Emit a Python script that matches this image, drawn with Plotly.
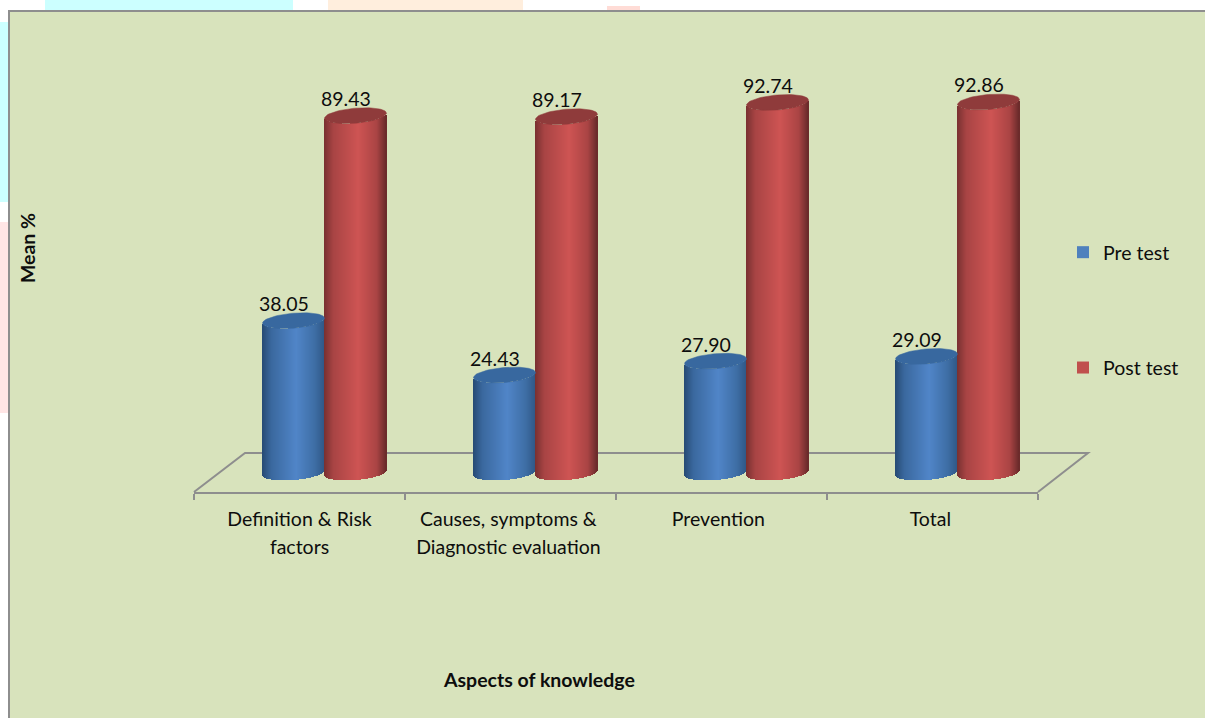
import math
import plotly.graph_objects as go

# ---- data ----
categories = ["Definition & Risk<br>factors", "Causes, symptoms &<br>Diagnostic evaluation", "Prevention", "Total"]
pre_test = [38.05, 24.43, 27.90, 29.09]
post_test = [89.43, 89.17, 92.74, 92.86]
series_names = ["Pre test", "Post test"]

# ---- page geometry (pixels) ----
W, H = 1205, 718
L, R, T, B = 194, 1038, 4, 492
ZERO_PX, PX_PER_UNIT = 472.5, 3.99
CAT_PX = (R - L) / 4
FONT = "Lato"
INK = "#0d0d0d"
GRAY = "#8e8e8e"
TEXT_SIZE = 19.5


def px(x):
    return (x - L) / (R - L)


def py(y):
    return (B - y) / (B - T)


def lerp(a, b, f):
    return tuple(a[i] + (b[i] - a[i]) * f for i in range(3))


def shade(stops, u):
    for (u0, c0), (u1, c1) in zip(stops, stops[1:]):
        if u <= u1:
            f = (u - u0) / (u1 - u0)
            c = lerp(c0, c1, f)
            return "rgb(%d,%d,%d)" % tuple(round(v) for v in c)
    return "rgb(%d,%d,%d)" % stops[-1][1]


BLUE_STOPS = [(0, (38, 74, 115)), (0.15, (58, 104, 158)), (0.55, (80, 133, 200)), (0.85, (62, 110, 165)), (1, (48, 88, 135))]
RED_STOPS = [(0, (120, 48, 48)), (0.15, (168, 68, 68)), (0.55, (206, 84, 83)), (0.85, (170, 68, 68)), (1, (104, 42, 42))]
CAP_COLORS = ["#38689f", "#8f3b3b"]
LEGEND_COLORS = ["#4f81bd", "#c0504d"]

half_w = 31 / CAT_PX
centre_shift = 0.5 + 25 / CAT_PX
minor_b = 7.5 / PX_PER_UNIT
shear = 2.5 / PX_PER_UNIT
N_STRIPS = 62

fig = go.Figure()


def add_cylinder_series(values, sign, stops, cap_color, name):
    xs, widths, bases, heights, colors = [], [], [], [], []
    cap_traces = []
    for i, v in enumerate(values):
        cx = i + centre_shift + sign * half_w
        for k in range(N_STRIPS):
            t = -1 + (2 * k + 1) / N_STRIPS
            front = -minor_b * math.sqrt(max(0, 1 - t * t)) + shear * t
            xs.append(cx + t * half_w)
            widths.append(2 * half_w / N_STRIPS)
            bases.append(front)
            heights.append(v)
            colors.append(shade(stops, (t + 1) / 2))
        angles = [2 * math.pi * a / 72 for a in range(73)]
        cap_traces.append(go.Scatter(
            x=[cx + half_w * math.cos(a) for a in angles],
            y=[v + minor_b * math.sin(a) + shear * math.cos(a) for a in angles],
            mode="lines", fill="toself", fillcolor=cap_color,
            line=dict(color=cap_color, width=0.5),
            cliponaxis=False, showlegend=False, hoverinfo="skip"))
    fig.add_trace(go.Bar(x=xs, y=heights, base=bases, width=widths,
                         marker=dict(color=colors, line=dict(width=0)),
                         cliponaxis=False, showlegend=False, name=name,
                         hoverinfo="skip"))
    for c in cap_traces:
        fig.add_trace(c)


add_cylinder_series(pre_test, -1, BLUE_STOPS, CAP_COLORS[0], series_names[0])
add_cylinder_series(post_test, 1, RED_STOPS, CAP_COLORS[1], series_names[1])

# legend entries
for n, c in zip(series_names, LEGEND_COLORS):
    fig.add_trace(go.Scatter(x=[None], y=[None], mode="markers", name=n, legendgroup=n,
                             marker=dict(symbol="square", size=12, color=c)))

annotations = []
for values, sign in ((pre_test, -1), (post_test, 1)):
    for i, v in enumerate(values):
        annotations.append(dict(x=i + centre_shift + sign * half_w, y=v, xref="x", yref="y",
                                text="%.2f" % v, showarrow=False, xshift=-9.5, yshift=17,
                                font=dict(family=FONT, size=TEXT_SIZE, color=INK)))
annotations.append(dict(x=px(539), y=py(679), xref="paper", yref="paper", xanchor="center", yanchor="middle",
                        text="<b>Aspects of knowledge</b>",
                        showarrow=False, font=dict(family=FONT, size=19.5, color=INK)))

shapes = []
# faint artwork that shows around the panel
for (x0, y0, x1, y1, col) in [(0, 22, 9, 202, "#ccffff"), (0, 222, 9, 413, "#ffe5e5"),
                              (45, 0, 293, 11, "#ccffff"), (328, 0, 523, 11, "#ffeedd"),
                              (607, 6, 640, 11, "#ffdcd6")]:
    shapes.append(dict(type="rect", xref="paper", yref="paper", x0=px(x0), x1=px(x1), y0=py(y0), y1=py(y1),
                       fillcolor=col, line=dict(width=0), layer="below"))
# green panel
shapes.append(dict(type="rect", xref="paper", yref="paper", x0=px(9), x1=px(1230), y0=py(11), y1=py(740),
                   fillcolor="#d8e3bc", line=dict(color=GRAY, width=2), layer="below"))
# chart floor
floor = "M %f %f L %f %f L %f %f L %f %f" % (px(194), py(492), px(245), py(453), px(1088), py(453), px(1038), py(492))
shapes.append(dict(type="path", xref="paper", yref="paper", path=floor,
                   line=dict(color=GRAY, width=2), layer="below"))

span = '<span style="font-size:%gpx">' % TEXT_SIZE
fig.update_layout(
    width=W, height=H, autosize=False,
    margin=dict(l=L, r=W - R, t=T, b=H - B, pad=0),
    paper_bgcolor="white", plot_bgcolor="rgba(0,0,0,0)",
    barmode="overlay", bargap=0,
    font=dict(family=FONT, size=TEXT_SIZE, color=INK),
    showlegend=True,
    legend=dict(x=px(1063), xanchor="left", y=py(233), yanchor="top", bgcolor="rgba(0,0,0,0)",
                tracegroupgap=87, traceorder="grouped", font=dict(family=FONT, size=TEXT_SIZE, color=INK)),
    xaxis=dict(range=[0, 4], showgrid=False, zeroline=False, showline=True, linecolor=GRAY, linewidth=2,
               tickmode="array", tickvals=[0.5, 1.49, 2.485, 3.49],
               ticktext=[span + c.replace("<br>", "</span><br>" + span) + "</span>" for c in categories],
               ticks="", tickfont=dict(family=FONT, size=21, color=INK), ticklabelstandoff=7,
               minor=dict(tickmode="array", tickvals=[0, 1, 2, 3, 4], ticks="outside", ticklen=6, tickwidth=2, tickcolor=GRAY, showgrid=False),
               fixedrange=True),
    yaxis=dict(range=[(ZERO_PX - B) / PX_PER_UNIT, (ZERO_PX - T) / PX_PER_UNIT], showgrid=False, zeroline=False,
               showline=False, showticklabels=False, ticks="", fixedrange=True,
               title=dict(text="<b>Mean %</b>", standoff=152, font=dict(family=FONT, size=19.5, color=INK))),
    annotations=annotations, shapes=shapes,
)

fig.write_html("out.html", post_script="document.body.style.margin='0';", config={"displayModeBar": False})
